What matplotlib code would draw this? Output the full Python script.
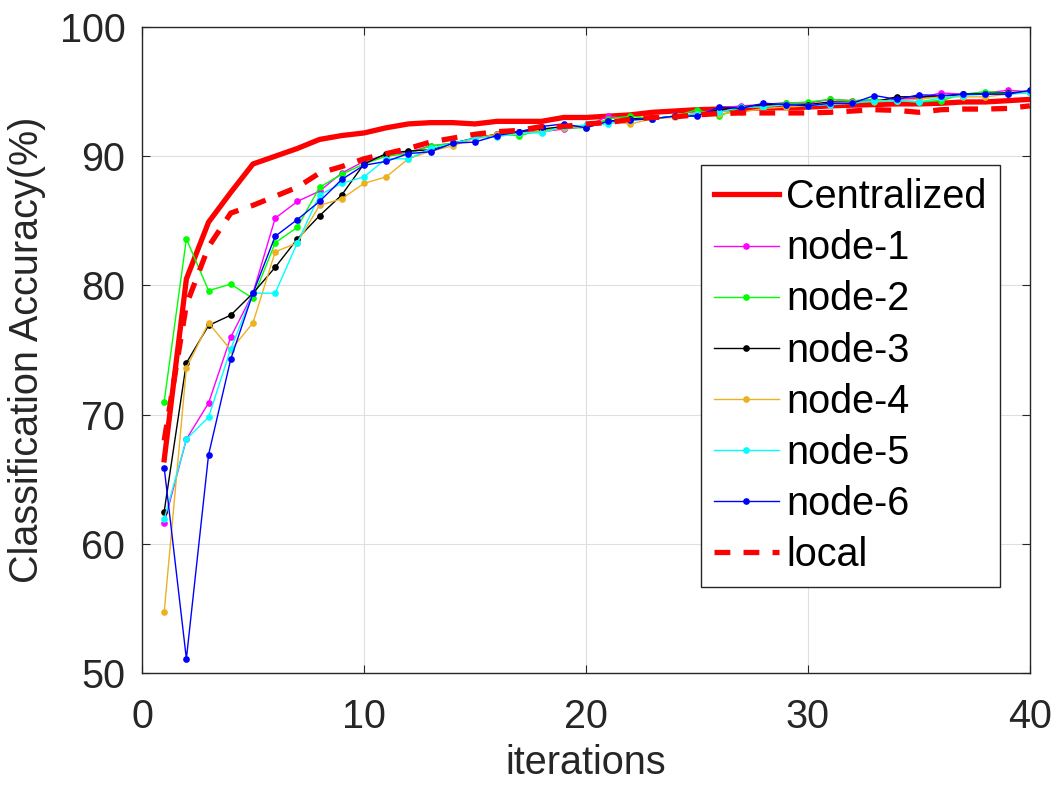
import matplotlib.pyplot as plt
import numpy as np

plt.rcParams['font.family'] = ['Liberation Sans', 'DejaVu Sans']

iters = np.arange(1, 41)

centralized = [66.5, 80.5, 84.9, 87.2, 89.4, 90.0, 90.6, 91.3, 91.6, 91.8,
               92.2, 92.5, 92.6, 92.6, 92.5, 92.7, 92.7, 92.7, 93.0, 93.0,
               93.1, 93.2, 93.4, 93.5, 93.6, 93.65, 93.7, 93.75, 93.75, 93.8,
               93.9, 93.95, 94.0, 94.05, 94.05, 94.1, 94.2, 94.2, 94.3, 94.4]
local = [68.0, 78.5, 83.0, 85.6, 86.2, 86.9, 87.6, 88.7, 89.2, 89.8,
         90.2, 90.6, 91.1, 91.4, 91.7, 91.9, 92.0, 92.3, 92.3, 92.5,
         92.6, 92.85, 93.0, 93.05, 93.2, 93.3, 93.35, 93.35, 93.35, 93.35,
         93.4, 93.5, 93.6, 93.55, 93.4, 93.6, 93.65, 93.65, 93.7, 93.9]
node1 = [61.6, 68.1, 70.9, 76.0, 79.4, 85.2, 86.5, 87.3, 88.7, 89.6,
         90.1, 90.3, 90.8, 91.0, 91.4, 91.7, 91.9, 91.9, 92.1, 92.3,
         93.1, 92.9, 92.9, 93.1, 93.3, 93.7, 93.9, 94.0, 94.15, 94.1,
         94.4, 94.3, 94.3, 94.4, 94.5, 94.9, 94.8, 94.9, 95.1, 95.0]
node2 = [71.0, 83.6, 79.6, 80.1, 79.0, 83.3, 84.5, 87.6, 88.6, 89.4,
         90.0, 90.2, 90.8, 91.0, 91.4, 91.7, 91.6, 92.0, 92.2, 92.2,
         92.9, 93.1, 92.9, 93.1, 93.6, 93.1, 93.8, 94.0, 94.1, 94.2,
         94.4, 94.3, 94.4, 94.3, 94.2, 94.3, 94.8, 95.0, 94.9, 95.0]
node3 = [62.5, 74.0, 76.9, 77.7, 79.4, 81.4, 83.6, 85.4, 87.0, 89.4,
         90.2, 90.4, 90.5, 91.0, 91.4, 91.7, 91.9, 92.1, 92.3, 92.3,
         92.7, 92.9, 92.9, 93.1, 93.2, 93.6, 93.8, 94.0, 94.0, 94.0,
         94.2, 94.2, 94.2, 94.6, 94.6, 94.6, 94.8, 94.85, 94.9, 95.0]
node4 = [54.7, 73.6, 77.1, 75.0, 77.1, 82.6, 83.3, 86.2, 86.7, 87.9,
         88.4, 89.8, 90.4, 90.8, 91.4, 91.7, 91.8, 91.9, 92.2, 92.3,
         92.7, 92.5, 92.9, 93.0, 93.3, 93.3, 93.4, 93.7, 93.8, 93.9,
         94.1, 94.2, 94.2, 94.3, 94.4, 94.6, 94.6, 94.6, 94.8, 95.0]
node5 = [61.9, 68.1, 69.8, 75.1, 79.4, 79.4, 83.3, 87.0, 87.9, 88.4,
         89.8, 89.8, 90.6, 91.0, 91.4, 91.5, 91.8, 91.8, 92.3, 92.4,
         92.5, 92.8, 92.9, 93.1, 93.3, 93.4, 93.8, 93.8, 94.0, 93.9,
         94.0, 94.1, 94.3, 94.3, 94.2, 94.5, 94.7, 94.8, 94.8, 94.9]
node6 = [65.9, 51.1, 66.9, 74.3, 79.4, 83.8, 85.1, 86.5, 88.2, 89.3,
         89.6, 90.2, 90.35, 91.0, 91.1, 91.6, 91.9, 92.3, 92.5, 92.2,
         92.7, 92.8, 92.9, 93.1, 93.1, 93.8, 93.7, 94.1, 94.0, 93.9,
         94.1, 94.1, 94.7, 94.4, 94.75, 94.7, 94.8, 94.8, 94.8, 95.1]

fig = plt.figure(figsize=(10.62, 7.88), dpi=100)
ax = fig.add_axes([0.1337, 0.1459, 0.836, 0.8198])

ax.plot(iters, centralized, color='#FF0000', lw=3.8, label='Centralized')
ax.plot(iters, node1, color='#FF00FF', lw=1.0, marker='o', ms=3.8, label='node-1')
ax.plot(iters, node2, color='#00FF00', lw=1.0, marker='o', ms=3.8, label='node-2')
ax.plot(iters, node3, color='#000000', lw=1.0, marker='o', ms=3.8, label='node-3')
ax.plot(iters, node4, color='#EDB120', lw=1.0, marker='o', ms=3.8, label='node-4')
ax.plot(iters, node5, color='#00FFFF', lw=1.0, marker='o', ms=3.8, label='node-5')
ax.plot(iters, node6, color='#0000FF', lw=1.0, marker='o', ms=3.8, label='node-6')
ax.plot(iters, local, color='#FF0000', lw=3.8, ls=(0, (3, 2.5)), label='local')

ax.set_xlim(0, 40)
ax.set_ylim(50, 100)
ax.set_xticks([0, 10, 20, 30, 40])
ax.set_yticks([50, 60, 70, 80, 90, 100])
ax.grid(True, color='#DFDFDF', lw=0.8)
ax.set_axisbelow(True)
for s in ax.spines.values():
    s.set_color('#262626')
    s.set_linewidth(1.0)
ax.tick_params(labelsize=28.5, colors='#262626', direction='in', length=6,
               top=True, right=True)
ax.tick_params(axis='x', pad=18)
ax.tick_params(axis='y', pad=12)
ax.set_xlabel('iterations', fontsize=28.5, color='#262626', labelpad=6)
ax.set_ylabel('Classification Accuracy(%)', fontsize=28.5, color='#262626', labelpad=10)

leg = ax.legend(loc='upper right', bbox_to_anchor=(0.966, 0.786), fontsize=28.5,
                handlelength=1.65, labelspacing=0.33, handletextpad=0.18,
                borderaxespad=0, borderpad=0.33, fancybox=False, framealpha=1)
leg.get_frame().set_edgecolor('#262626')
leg.get_frame().set_linewidth(1.0)

fig.savefig('out.png', dpi=100)
